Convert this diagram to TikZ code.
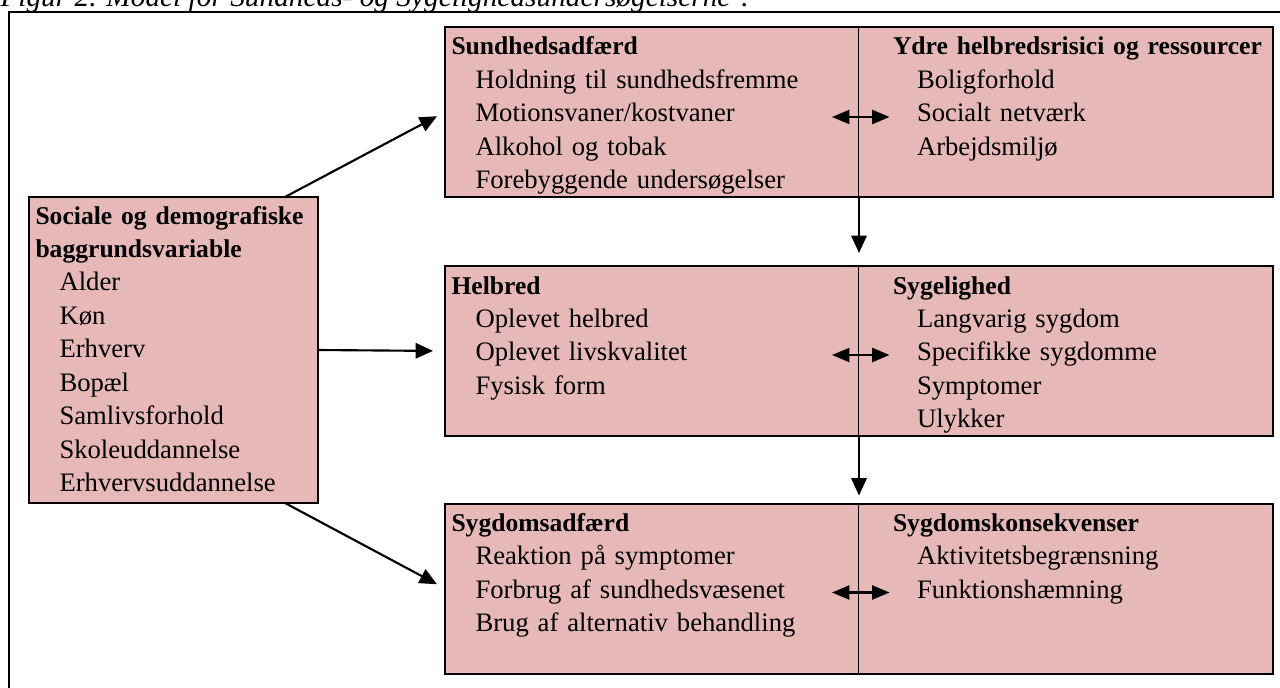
\documentclass[tikz,border=0pt]{standalone}
\usepackage{fontspec}
\setmainfont{Liberation Serif}
\usetikzlibrary{arrows.meta}

\definecolor{boxpink}{RGB}{230,184,184}
\newcommand{\indt}{\hspace*{18pt}}
\newcommand{\hdr}[1]{{\fontsize{19.2}{25.1}\selectfont\bfseries #1}}

\tikzset{
  every picture/.style={line width=0.75pt},
  cell/.style={draw, fill=boxpink, line width=0.9pt, inner sep=0pt, outer sep=0pt,
    minimum width=310.5pt, minimum height=127.5pt},
  rowframe/.style={line width=1.5pt},
  celltext/.style={anchor=base west, inner sep=0pt, align=left, text width=300pt,
    font=\fontsize{20}{25.1}\selectfont},
  arr/.style={line width=1.6pt, -{Triangle[length=13pt,width=11.5pt]}},
  dblarr/.style={line width=1.6pt,
    {Triangle[length=13pt,width=10.5pt]}-{Triangle[length=13pt,width=10.5pt]}},
}

\begin{document}
\begin{tikzpicture}[x=0.75pt,y=0.75pt,yscale=-1,xscale=1]
\path[use as bounding box, clip] (0,0) rectangle (1280,688);

% Caption (cut at the top)
\node[anchor=base west, inner sep=0pt, font=\itshape\fontsize{22}{26}\selectfont] (figtitle) at (0,7)
  {Figur 2. Model for Sundheds- og Sygelighedsundersøgelserne\textsuperscript{1}.};

%Frame
\draw[line width=1.1pt] (9,700) -- (9,12) -- (1290,12);

%Shape: Rectangle [left box]
\node[cell, line width=1.5pt, minimum width=216.75pt, minimum height=229.5pt] (baggrund) at (173.5,350) {};

%Shape: Rectangle [top row]
\node[cell] (sundadf) at (652,112) {};
\node[cell] (ydre) at (1065.5,112) {};
\draw[rowframe] (sundadf.north west) rectangle (ydre.south east);
%Shape: Rectangle [middle row]
\node[cell] (helbred) at (652,351) {};
\node[cell] (sygelig) at (1065.5,351) {};
\draw[rowframe] (helbred.north west) rectangle (sygelig.south east);
%Shape: Rectangle [bottom row]
\node[cell] (sygadf) at (652,588.5) {};
\node[cell] (konsek) at (1065.5,588.5) {};
\draw[rowframe] (sygadf.north west) rectangle (konsek.south east);

% Text Node
\node[celltext] (baggrund-t) at ([shift={(6,27)}]baggrund.north west)
  {\hdr{Sociale og demografiske}\\\hdr{baggrundsvariable}\\
   \indt Alder\\\indt Køn\\\indt Erhverv\\\indt Bopæl\\
   \indt Samlivsforhold\\\indt Skoleuddannelse\\\indt Erhvervsuddannelse};
% Text Node
\node[celltext] (sundadf-t) at ([shift={(6,28)}]sundadf.north west)
  {\hdr{Sundhedsadfærd}\\\indt Holdning til sundhedsfremme\\
   \indt Motionsvaner/kostvaner\\\indt Alkohol og tobak\\
   \indt Forebyggende undersøgelser};
% Text Node
\node[celltext] (ydre-t) at ([shift={(34,28)}]ydre.north west)
  {\hdr{Ydre helbredsrisici og ressourcer}\\\indt Boligforhold\\
   \indt Socialt netværk\\\indt Arbejdsmiljø};
% Text Node
\node[celltext] (helbred-t) at ([shift={(6,28)}]helbred.north west)
  {\hdr{Helbred}\\\indt Oplevet helbred\\\indt Oplevet livskvalitet\\
   \indt Fysisk form};
% Text Node
\node[celltext] (sygelig-t) at ([shift={(34,28)}]sygelig.north west)
  {\hdr{Sygelighed}\\\indt Langvarig sygdom\\\indt Specifikke sygdomme\\
   \indt Symptomer\\\indt Ulykker};
% Text Node
\node[celltext] (sygadf-t) at ([shift={(6,28)}]sygadf.north west)
  {\hdr{Sygdomsadfærd}\\\indt Reaktion på symptomer\\
   \indt Forbrug af sundhedsvæsenet\\\indt Brug af alternativ behandling};
% Text Node
\node[celltext] (konsek-t) at ([shift={(34,28)}]konsek.north west)
  {\hdr{Sygdomskonsekvenser}\\\indt Aktivitetsbegrænsning\\
   \indt Funktionshæmning};

%Straight Lines [from background variables]
\draw[arr, shorten >=6.75pt] ([shift={(-33,0)}]baggrund.north east) -- (sundadf.west);
\draw[arr, shorten >=9pt] (baggrund.east) -- (helbred.west);
\draw[arr, shorten >=6.75pt] ([shift={(-33,0)}]baggrund.south east) -- (sygadf.west);

%Straight Lines [down the divider]
\draw[arr, shorten >=9.75pt] (sundadf.south east) -- (helbred.north east);
\draw[arr, shorten >=6pt] (helbred.south east) -- (sygadf.north east);

%Straight Lines [between halves]
\draw[dblarr] ([shift={(-27,5)}]sundadf.east) -- ([shift={(31,5)}]ydre.west);
\draw[dblarr] ([shift={(-27,4)}]helbred.east) -- ([shift={(31,4)}]sygelig.west);
\draw[dblarr] ([shift={(-27,4)}]sygadf.east) -- ([shift={(31,4)}]konsek.west);

\end{tikzpicture}
\end{document}
